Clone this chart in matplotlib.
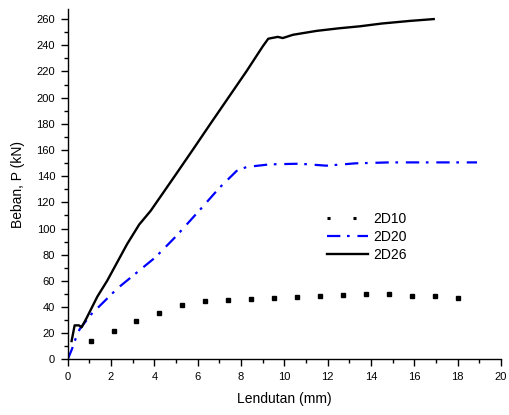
import numpy as np
import matplotlib.pyplot as plt
from matplotlib.lines import Line2D
from matplotlib.ticker import MultipleLocator

plt.rcParams['font.family'] = ['Liberation Sans', 'DejaVu Sans']

# data
x_2d10 = [1.06, 2.12, 3.17, 4.23, 5.29, 6.35, 7.41, 8.47, 9.53, 10.6,
          11.65, 12.7, 13.76, 14.82, 15.88, 16.94, 18.0]
y_2d10 = [13.8, 22, 29, 35.5, 41.4, 44.5, 45.2, 46.3, 47, 47.8,
          48.5, 49, 49.6, 49.6, 48.8, 48.3, 47]

x_2d20 = [0, 0.2, 0.37, 0.55, 1.06, 2.28, 4.05, 5.0, 6.2, 7.0, 7.8, 8.26,
          9.33, 10.7, 11.94, 13.3, 14.85, 18.9]
y_2d20 = [0, 8, 16, 23, 34, 54, 78, 94, 116, 131, 144, 147,
          149, 149.5, 148, 149.8, 150.5, 150.5]

x_2d26 = [0.18, 0.32, 0.52, 0.64, 0.87, 1.37, 1.82, 2.74, 3.3, 3.83, 4.94,
          5.77, 6.59, 7.42, 8.25, 9.0, 9.26, 9.7, 9.93, 10.4, 11.5, 12.55,
          13.5, 14.5, 15.8, 16.9]
y_2d26 = [14, 26, 26, 24.5, 31.5, 48, 60, 88, 103, 113.5, 140,
          160, 180, 200, 220, 239, 245, 246.4, 245.5, 248, 251, 253,
          254.5, 256.6, 258.6, 260]

fig = plt.figure(figsize=(5.09, 4.15), dpi=100)
ax = fig.add_axes([0.133, 0.134, 0.851, 0.844])

ax.plot(x_2d10, y_2d10, linestyle='none', marker='s', markersize=2.2,
        color='black')
ax.plot(x_2d20, y_2d20, color='#0000ff', lw=1.6, dashes=(6, 3, 1.2, 3.5))
ax.plot(x_2d26, y_2d26, color='black', lw=1.7)

ax.set_xlim(0, 20)
ax.set_ylim(0, 267.6)
ax.xaxis.set_major_locator(MultipleLocator(2))
ax.xaxis.set_minor_locator(MultipleLocator(1))
ax.yaxis.set_major_locator(MultipleLocator(20))
ax.yaxis.set_minor_locator(MultipleLocator(10))
ax.tick_params(which='major', direction='out', length=5, width=1,
               labelsize=8, pad=4)
ax.tick_params(which='minor', direction='out', length=3, width=1)
for s in ['top', 'right']:
    ax.spines[s].set_visible(False)
for s in ['left', 'bottom']:
    ax.spines[s].set_linewidth(1)

ax.set_xlabel('Lendutan (mm)', fontsize=10, labelpad=7)
ax.set_ylabel('Beban, P (kN)', fontsize=10, labelpad=8)

handles = [
    Line2D([], [], color='black', lw=2.2, dashes=(1, 7.5)),
    Line2D([], [], color='#0000ff', lw=1.6, dashes=(6, 3, 1.2, 3.5)),
    Line2D([], [], color='black', lw=1.7),
]
fig.legend(handles, ['2D10', '2D20', '2D26'], loc='upper left',
           bbox_to_anchor=(327 / 509, 1 - 212 / 415), frameon=False,
           fontsize=10, handlelength=2.95, handletextpad=0.36,
           labelspacing=0.3, borderpad=0, borderaxespad=0)

fig.savefig('out.png', dpi=100)
